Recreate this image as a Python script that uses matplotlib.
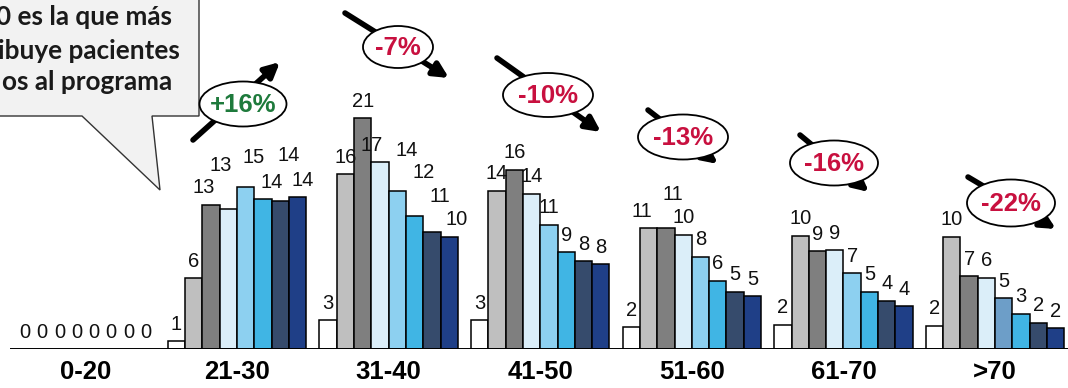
import matplotlib
matplotlib.use("Agg")
import matplotlib.pyplot as plt
from matplotlib.patches import Ellipse, Polygon
import numpy as np

# age groups and bar values (heights, labels are the rounded values)
groups = ["0-20", "21-30", "31-40", "41-50", "51-60", "61-70", ">70"]
v_0_20 = [0, 0, 0, 0, 0, 0, 0, 0]
v_21_30 = [0.7, 6.45, 13.1, 12.7, 14.7, 13.6, 13.5, 13.8]
v_31_40 = [2.6, 15.9, 21.0, 17.0, 14.4, 12.1, 10.6, 10.2]
v_41_50 = [2.6, 14.4, 16.3, 14.1, 11.3, 8.8, 8.0, 7.7]
v_51_60 = [2.0, 11.0, 11.0, 10.4, 8.4, 6.2, 5.2, 4.8]
v_61_70 = [2.2, 10.3, 8.9, 9.0, 6.9, 5.2, 4.4, 3.9]
v_70plus = [2.1, 10.2, 6.6, 6.5, 4.6, 3.2, 2.4, 1.9]
values = [v_0_20, v_21_30, v_31_40, v_41_50, v_51_60, v_61_70, v_70plus]

# change per group shown in the ovals
changes = [None, "+16%", "-7%", "-10%", "-13%", "-16%", "-22%"]

bar_colors = ["#ffffff", "#bfbfbf", "#7f7f7f", "#dbeef9", "#8dd0f0",
              "#40b5e4", "#364b6c", "#1f3f87"]
odd_color = "#6d9ec8"  # the 5th bar of >70 has another blue

# label nudges (px) where the original staggers them: (group, bar) -> (dx, extra lift)
label_nudge = {(1, 2): (-7, 0), (1, 3): (-8, 27), (1, 4): (8, 13), (1, 5): (9, 0),
               (1, 6): (8, 28), (1, 7): (5, 0),
               (2, 3): (-8, 0), (2, 4): (9, 23), (2, 5): (9, 26), (2, 6): (8, 19),
               (2, 7): (7, 0),
               (4, 1): (-7, 0), (4, 2): (7, 17)}

W, H = 1068, 388
fig = plt.figure(figsize=(W / 100, H / 100), dpi=100)
ax = fig.add_axes([10 / W, (H - 349) / H, 1 - 10 / W, 349 / H])
ax.set_xlim(-0.497, 6.481)
ax.set_ylim(0, 31.73)
px_per_unit = 349 / 31.73
px_per_group = 151.6

bw = 17.3 / px_per_group
for g, vals in enumerate(values):
    for j, v in enumerate(vals):
        x = g + (j - 3.5) * bw
        c = bar_colors[j]
        if g == 6 and j == 4:
            c = odd_color
        if v > 0:
            ax.bar(x, v, width=bw, color=c, edgecolor="black", linewidth=1.1, zorder=2)
        dx, dy = label_nudge.get((g, j), (0, 0))
        ax.text(x + dx / px_per_group, v + (17 + dy) / px_per_unit, f"{v:.0f}",
                ha="center", va="center", fontsize=14.5,
                family="Liberation Sans", color="#111111")

ax.axhline(0, color="black", linewidth=1.4, zorder=3)
for s in ax.spines.values():
    s.set_visible(False)
ax.set_xticks(range(len(groups)))
ax.set_xticklabels(groups, fontsize=18.5, fontweight="bold", family="Liberation Sans")
ax.tick_params(axis="x", length=0, pad=8)
ax.set_yticks([])

# overlay in pixel coordinates for the annotations
ov = fig.add_axes([0, 0, 1, 1], zorder=5)
ov.set_xlim(0, W)
ov.set_ylim(H, 0)
ov.axis("off")

# speech bubble (cut off at the left edge)
bubble = Polygon([(-5, -5), (199, -5), (199, 116), (152, 116), (160, 190),
                  (82, 116), (-5, 116)], closed=True, facecolor="#f2f2f2",
                 edgecolor="#333333", linewidth=1.0)
ov.add_patch(bubble)
for txt, xr, yy in [("0 es la que más", 172, 25), ("ibuye pacientes", 180, 59),
                    ("os al programa", 172, 90)]:
    ov.text(xr, yy, txt, ha="right", va="baseline", fontsize=18.8,
            fontweight="bold", family="Lato", color="#1a1a1a")

# arrows + ovals: (start, end, ellipse center, width, height)
marks = [
    ((193, 140), (280, 62), (243, 104), 87, 45),
    ((345, 13), (449, 78), (398, 47), 70, 42),
    ((497, 58), (601, 132), (548, 95), 90, 44),
    ((648, 110), (718, 164), (683, 137), 90, 45),
    ((800, 135), (869, 192), (834, 163), 88, 45),
    ((968, 177), (1056, 229), (1011, 203), 88, 47),
]
for k, (p0, p1, c, ew, eh) in enumerate(marks):
    ov.annotate("", xy=p1, xytext=p0,
                arrowprops=dict(arrowstyle="-|>", lw=4, color="black",
                                mutation_scale=22, shrinkA=0, shrinkB=0))
    ov.add_patch(Ellipse(c, ew, eh, facecolor="white", edgecolor="black",
                         linewidth=1.3, zorder=6))
    lab = changes[k + 1]
    col = "#1e7a3c" if lab.startswith("+") else "#c8103f"
    ov.text(c[0], c[1] + 1, lab, ha="center", va="center", fontsize=18.5,
            fontweight="bold", family="Liberation Sans", color=col, zorder=7)

fig.savefig("out.png", dpi=100)
